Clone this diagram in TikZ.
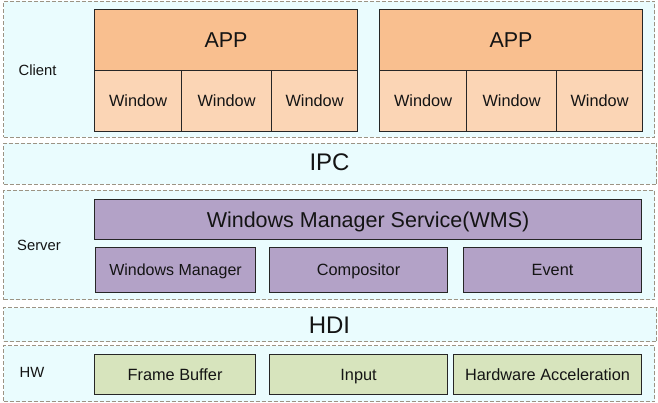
\documentclass[tikz,border=0pt]{standalone}
\usepackage{fontspec}
\setmainfont{Liberation Sans}
\definecolor{layerc}{HTML}{EAFCFE}
\definecolor{dashc}{HTML}{9C9384}
\definecolor{appc}{HTML}{F9BF8F}
\definecolor{winc}{HTML}{FBD5B5}
\definecolor{wmsc}{HTML}{B3A2C7}
\definecolor{hwc}{HTML}{D7E4BD}
\definecolor{txt}{HTML}{141414}
\begin{document}
\begin{tikzpicture}[x=1pt,y=-1pt,
  layer/.style={draw=dashc, dash pattern=on 4pt off 2pt, fill=layerc, line width=1pt, inner sep=0pt, anchor=north west},
  box/.style={draw=black!85, line width=1.1pt, inner sep=0pt, anchor=north west, text=txt, font=\fontsize{16.3}{19}\selectfont, text height=11.7pt, text depth=0pt},
  large/.style={font=\fontsize{21.5}{24}\selectfont, text height=15.4pt, text depth=0pt},
  big/.style={text=txt, font=\fontsize{24}{28}\selectfont, text height=17.2pt, text depth=0pt},
  lbl/.style={text=txt, font=\fontsize{14.8}{17}\selectfont, text height=10.6pt, text depth=0pt}]
\useasboundingbox (0,0) rectangle (658,403);
% layers
\node[layer, minimum width=651pt, minimum height=136pt] (client) at (3,1) {};
\node[layer, minimum width=653pt, minimum height=41pt] (ipc) at (3,143) {};
\node[layer, minimum width=651pt, minimum height=109pt] (server) at (3,190) {};
\node[layer, minimum width=653pt, minimum height=34pt] (hdi) at (3,307) {};
\node[layer, minimum width=651pt, minimum height=56pt] (hw) at (3,345) {};
% layer labels
\node[lbl] (clientlbl) at (37.5,70) {Client};
\node[lbl] (serverlbl) at (39,245) {Server};
\node[lbl] (hwlbl) at (32,372) {HW};
\node[big] (ipclbl) at (329.5,162) {IPC};
\node[big] (hdilbl) at (329.5,325) {HDI};
% apps
\node[box, large, fill=appc, minimum width=263pt, minimum height=61pt] (app1) at (94,9) {APP};
\node[box, fill=winc, minimum width=87pt, minimum height=61pt] (w11) at (94,70) {Window};
\node[box, fill=winc, minimum width=90pt, minimum height=61pt] (w12) at (181,70) {Window};
\node[box, fill=winc, minimum width=86pt, minimum height=61pt] (w13) at (271,70) {Window};
\node[box, large, fill=appc, minimum width=263pt, minimum height=61pt] (app2) at (379,9) {APP};
\node[box, fill=winc, minimum width=87pt, minimum height=61pt] (w21) at (379,70) {Window};
\node[box, fill=winc, minimum width=90pt, minimum height=61pt] (w22) at (466,70) {Window};
\node[box, fill=winc, minimum width=86pt, minimum height=61pt] (w23) at (556,70) {Window};
% server
\node[box, large, fill=wmsc, minimum width=547pt, minimum height=40pt] (wms) at (94,199) {Windows Manager Service(WMS)};
\node[box, fill=wmsc, minimum width=160pt, minimum height=45pt, font=\fontsize{16}{19}\selectfont] (wm) at (95,247) {Windows Manager};
\node[box, fill=wmsc, minimum width=178pt, minimum height=45pt] (comp) at (269,247) {Compositor};
\node[box, fill=wmsc, minimum width=178pt, minimum height=45pt] (event) at (463,247) {Event};
% hardware
\node[box, fill=hwc, minimum width=161pt, minimum height=40pt] (fb) at (94,354) {Frame Buffer};
\node[box, fill=hwc, minimum width=178pt, minimum height=40pt] (input) at (269,354) {Input};
\node[box, fill=hwc, minimum width=188pt, minimum height=40pt] (ha) at (453,354) {Hardware Acceleration};
\end{tikzpicture}
\end{document}
